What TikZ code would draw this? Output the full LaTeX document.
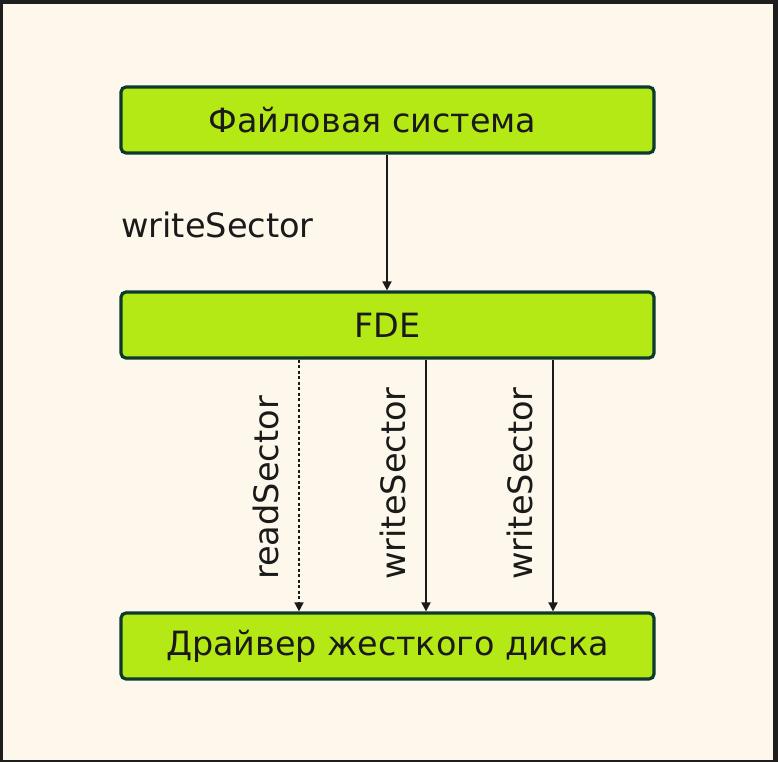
\documentclass[tikz,border=0pt]{standalone}
\usepackage{fontspec}
\setmainfont{DejaVu Sans}
\usetikzlibrary{arrows.meta}
\definecolor{frame}{HTML}{1E1E1E}
\definecolor{cream}{HTML}{FEF8EC}
\definecolor{lime}{HTML}{B5E916}
\definecolor{boxline}{HTML}{0C3B2E}
\definecolor{ink}{HTML}{1A1A1A}
\tikzset{
  box/.style={draw=boxline, fill=lime, line width=3.2pt, rounded corners=5pt,
    minimum width=533pt, minimum height=66pt, inner sep=0pt, text=ink,
    font=\fontsize{33.4}{40}\selectfont},
  conn/.style={draw=ink, line width=1.8pt, -{Triangle[length=9pt,width=9pt]}},
  lbl/.style={text=ink, inner sep=0pt, font=\fontsize{33.6}{40}\selectfont},
  vlbl/.style={lbl, rotate=90, anchor=base west}
}
\begin{document}
\begin{tikzpicture}[x=1pt,y=-1pt]
\fill[frame] (0,0) rectangle (778,762);
\fill[cream] (3,4) rectangle (773,760);
\useasboundingbox (0,0) rectangle (778,762);
\node[box] (fs) at (387.5,120) {Файловая система\hspace*{30pt}};
\node[box] (fde) at (387.5,325) {FDE};
\node[box] (drv) at (387.5,646) {Драйвер жесткого диска};
\draw[conn] (fs.south -| 387,0) -- (fde.north -| 387,0);
\node[lbl, anchor=west] (l0) at (121,225) {writeSector};
\coordinate (a1) at (299,0);
\coordinate (a2) at (426,0);
\coordinate (a3) at (553,0);
\draw[conn, line width=1.6pt, dash pattern=on 3pt off 2.5pt] (fde.south -| a1) -- (drv.north -| a1);
\draw[conn] (fde.south -| a2) -- (drv.north -| a2);
\draw[conn] (fde.south -| a3) -- (drv.north -| a3);
\node[vlbl] (l1) at (278,580) {readSector};
\node[vlbl] (l2) at (405,580) {writeSector};
\node[vlbl] (l3) at (532,580) {writeSector};
\end{tikzpicture}
\end{document}
